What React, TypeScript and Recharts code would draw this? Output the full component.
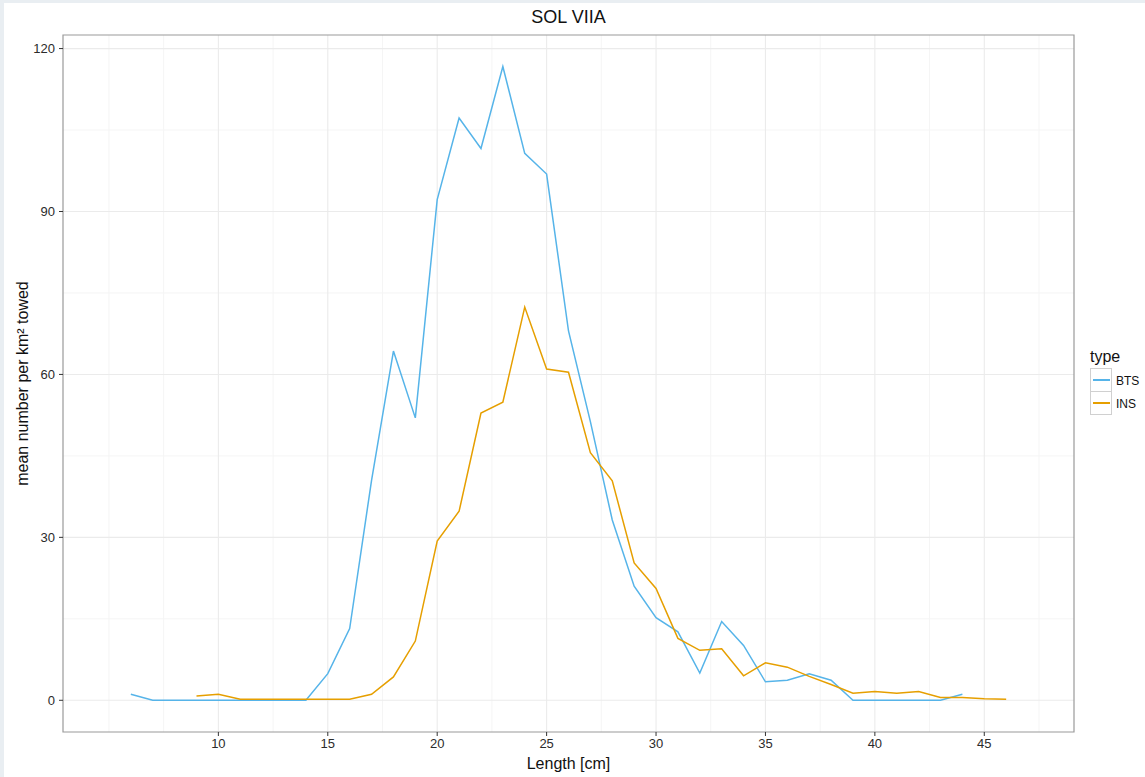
import { LineChart, Line, XAxis, YAxis, CartesianGrid, ReferenceArea } from 'recharts'

// length classes (cm)
const lengths = [
  6, 7, 8, 9, 10, 11, 12, 13, 14, 15, 16, 17, 18, 19, 20, 21, 22, 23, 24, 25, 26,
  27, 28, 29, 30, 31, 32, 33, 34, 35, 36, 37, 38, 39, 40, 41, 42, 43, 44, 45, 46,
]

// mean number per km² towed, BTS survey
const bts = [
  1.1, 0, 0, 0, 0, 0, 0, 0, 0, 4.9, 13.2, 40.5, 64.3, 52.0, 92.2, 107.2, 101.6, 116.7, 100.7, 96.9, 68.0,
  51.3, 33.2, 21.0, 15.2, 12.6, 5.0, 14.5, 10.1, 3.4, 3.7, 4.9, 3.7, 0, 0, 0, 0, 0, 1.1, null, null,
]

// mean number per km² towed, INS survey
const ins = [
  null, null, null, 0.8, 1.1, 0.2, 0.2, 0.2, 0.2, 0.2, 0.2, 1.1, 4.3, 10.9, 29.3, 34.8, 52.9, 54.9, 72.4, 61.0, 60.4,
  45.6, 40.4, 25.3, 20.6, 11.4, 9.2, 9.5, 4.5, 6.9, 6.1, 4.4, 2.9, 1.3, 1.6, 1.3, 1.6, 0.5, 0.5, 0.3, 0.2,
]

const xTicks = [10, 15, 20, 25, 30, 35, 40, 45]
const xMinor = [5, 7.5, 12.5, 17.5, 22.5, 27.5, 32.5, 37.5, 42.5, 47.5]
const yTicks = [0, 30, 60, 90, 120]
const yMinor = [15, 45, 75, 105]

const series = [
  { key: 'BTS', color: '#56B4E9' },
  { key: 'INS', color: '#E69F00' },
]

const xDomain = [2.9, 49.1]
const yDomain = [-5.84, 122.5]

const font = '"Liberation Sans", Arial, Helvetica, sans-serif'

const data = lengths.map((len, i) => ({ length: len, BTS: bts[i], INS: ins[i] }))

export default function App() {
  const tickStyle = { fontSize: 13, fill: '#2b2b2b', fontFamily: font }
  const titleStyle = { fontSize: 16, fill: '#111', fontFamily: font }

  return (
    <div style={{ position: 'fixed', left: 0, top: 0, width: 1145, height: 777, background: '#e9eef2', fontFamily: font, overflow: 'hidden' }}>
      <div style={{ position: 'absolute', left: 4, top: 3, right: 0, bottom: 0, background: '#fff' }} />

      {/* title */}
      <div style={{ position: 'absolute', left: 63, width: 1011, top: 7, textAlign: 'center', fontSize: 18, color: '#111' }}>
        SOL VIIA
      </div>

      <div style={{ position: 'absolute', left: 0, top: 0 }}>
        <LineChart width={1145} height={777} data={data} margin={{ top: 35, right: 71, bottom: 0, left: 0 }}>
          <CartesianGrid horizontalValues={yMinor} verticalValues={xMinor} stroke="#f5f5f5" strokeWidth={1} />
          <CartesianGrid horizontalValues={yTicks} verticalValues={xTicks} stroke="#ebebeb" strokeWidth={1.1} />
          <XAxis
            dataKey="length"
            type="number"
            domain={xDomain}
            ticks={xTicks}
            height={45}
            axisLine={false}
            tickSize={4}
            tickMargin={3}
            tickLine={{ stroke: '#333' }}
            tick={tickStyle}
            allowDataOverflow
            label={{ value: 'Length [cm]', position: 'insideBottom', offset: 8, style: titleStyle }}
          />
          <YAxis
            type="number"
            domain={yDomain}
            ticks={yTicks}
            width={63}
            axisLine={false}
            tickSize={4}
            tickMargin={4}
            tickLine={{ stroke: '#333' }}
            tick={tickStyle}
            allowDataOverflow
            label={{
              value: 'mean number per km² towed',
              angle: -90,
              position: 'insideLeft',
              offset: 22,
              style: { ...titleStyle, textAnchor: 'middle' },
            }}
          />
          {series.map(s => (
            <Line
              key={s.key}
              dataKey={s.key}
              type="linear"
              stroke={s.color}
              strokeWidth={1.5}
              dot={false}
              activeDot={false}
              isAnimationActive={false}
            />
          ))}
          <ReferenceArea x1={xDomain[0]} x2={xDomain[1]} y1={yDomain[0]} y2={yDomain[1]} fill="none" stroke="#9a9a9a" strokeWidth={1.2} />
        </LineChart>
      </div>

      {/* legend */}
      <div style={{ position: 'absolute', left: 1090, top: 348 }}>
        <div style={{ fontSize: 16, color: '#111', marginBottom: 3 }}>type</div>
        {series.map(s => (
          <div key={s.key} style={{ display: 'flex', alignItems: 'center', height: 23 }}>
            <div style={{ width: 20, height: 22, border: '1px solid #d0d0d0', marginTop: -1, display: 'flex', alignItems: 'center', justifyContent: 'center' }}>
              <div style={{ width: 17, height: 1.5, background: s.color }} />
            </div>
            <span style={{ fontSize: 12, color: '#111', marginLeft: 4 }}>{s.key}</span>
          </div>
        ))}
      </div>
    </div>
  )
}
